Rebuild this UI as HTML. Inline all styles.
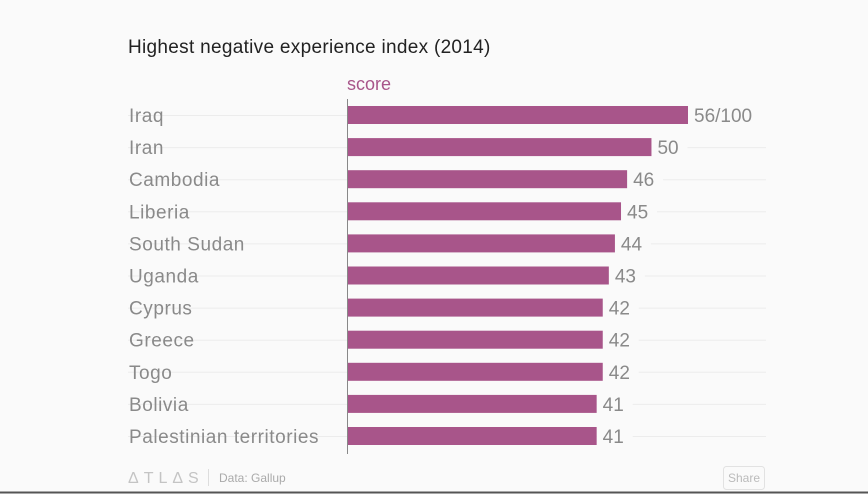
<!DOCTYPE html>
<html><head><meta charset="utf-8"><style>
body{margin:0;background:#fafafa;font-family:"Liberation Sans",sans-serif;}
#wrap{position:relative;width:868px;height:494px;overflow:hidden;background:#fafafa;}
</style></head><body>
<div id="wrap">
<svg id="chart" width="868" height="494">
<text x="128" y="53" font-size="19" fill="#222" letter-spacing="0.3">Highest negative experience index (2014)</text>
<text x="347" y="90" font-size="18" fill="#a8558a">score</text>
<g id="rows"></g>
<line x1="347.5" y1="99" x2="347.5" y2="454" stroke="#888" stroke-width="1"/>
<text x="128" y="483" font-size="16" fill="#c4c4c4" letter-spacing="5">ΔTLΔS</text>
<line x1="208.5" y1="469" x2="208.5" y2="486" stroke="#ddd"/>
<text x="219" y="482" font-size="12" fill="#aaa">Data: Gallup</text>
<rect x="723.5" y="466.5" width="41" height="23" rx="3" fill="#fafafa" stroke="#e2e2e2"/>
<text x="744" y="482" font-size="12" fill="#bbb" text-anchor="middle">Share</text>
<line x1="0" y1="492.5" x2="868" y2="492.5" stroke="#555" stroke-width="2"/>
</svg>
</div>
<script>
const categories=["Iraq","Iran","Cambodia","Liberia","South Sudan","Uganda","Cyprus","Greece","Togo","Bolivia","Palestinian territories"];
const values=[56,50,46,45,44,43,42,42,42,41,41];
const valueLabels=["56/100","50","46","45","44","43","42","42","42","41","41"];
const x0=347, pxPerUnit=341/56;
function xScale(v){return x0+v*pxPerUnit;}
function yScale(i){return 115+i*32.1;}
const g=document.getElementById('rows');
const NS='http://www.w3.org/2000/svg';
categories.forEach((c,i)=>{
  const y=yScale(i);
  const grid=document.createElementNS(NS,'line');
  
  
  grid.setAttribute('x1',128);grid.setAttribute('x2',766);
  grid.setAttribute('y1',y+0.5);grid.setAttribute('y2',y+0.5);
  grid.setAttribute('stroke','#ececec');
  g.appendChild(grid);
  const t=document.createElementNS(NS,'text');
  
  
  t.setAttribute('x',129);t.setAttribute('y',y+7);
  t.setAttribute('font-size','19');t.setAttribute('fill','#8a8a8a');
  t.setAttribute('letter-spacing','0.55');
  t.textContent=c;
  g.appendChild(t);
  const xe=xScale(values[i]);
  const bg=document.createElementNS(NS,'rect');
  
  
  bg.setAttribute('x',xe);bg.setAttribute('y',y-12);
  bg.setAttribute('width',valueLabels[i].length*11+14);bg.setAttribute('height',24);
  bg.setAttribute('fill','#fafafa');
  g.appendChild(bg);
  const r=document.createElementNS(NS,'rect');
  
  
  r.setAttribute('x',x0);r.setAttribute('y',y-9);
  r.setAttribute('width',xe-x0);r.setAttribute('height',18);
  r.setAttribute('fill','#a8558a');
  g.appendChild(r);
  const v=document.createElementNS(NS,'text');
  
  
  v.setAttribute('x',xe+6);v.setAttribute('y',y+7);
  v.setAttribute('font-size','19');v.setAttribute('fill','#8a8a8a');
  v.textContent=valueLabels[i];
  g.appendChild(v);
});
</script>
</body></html>
